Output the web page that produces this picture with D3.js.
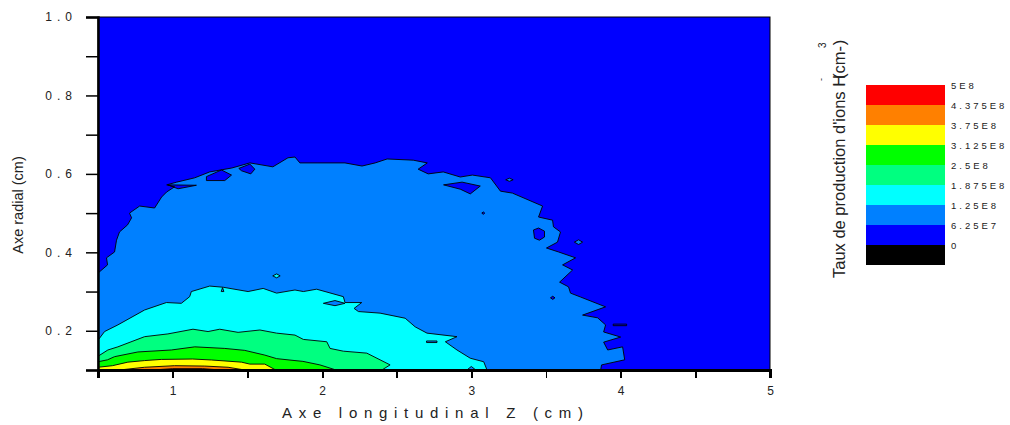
<!DOCTYPE html>
<html><head><meta charset="utf-8">
<script src="https://cdn.jsdelivr.net/npm/d3@7"></script>
<style>
body{margin:0;background:#fff}
svg{display:block}
text{font-family:Arial,"Liberation Sans",sans-serif;fill:#222}
</style>
</head><body>
<svg id="chart" width="1010" height="425"></svg>
<script>
// ---------- data ----------
const levels = [-6.25e7, 0, 6.25e7, 1.25e8, 1.875e8, 2.5e8, 3.125e8, 3.75e8, 4.375e8, 5e8];
const levelLabels = ["0","6.25E7","1.25E8","1.875E8","2.5E8","3.125E8","3.75E8","4.375E8","5E8"];
const bandColors = ["#000000","#0000FF","#0080FF","#00FFFF","#00FF80","#00FF00","#FFFF00","#FF8000","#FF0000"];
const xTicks = [0.5,1,1.5,2,2.5,3,3.5,4,4.5,5];
const xLabels = [1,2,3,4,5];
const yTicks = [0.1,0.2,0.3,0.4,0.5,0.6,0.7,0.8,0.9,1.0];
const yLabels = [0.2,0.4,0.6,0.8,1.0];

// contour lines [z (cm), r (cm)] for each level
const c625e7 = [[0.5,0.347],[0.564,0.368],[0.557,0.386],[0.611,0.401],[0.624,0.431],[0.644,0.452],[0.698,0.470],[0.725,0.488],[0.711,0.500],[0.779,0.518],[0.879,0.513],[0.926,0.541],[0.960,0.554],[1.013,0.567],[0.960,0.572],[1.027,0.579],[1.148,0.590],[1.248,0.605],[1.396,0.615],[1.517,0.628],[1.671,0.618],[1.772,0.641],[1.819,0.643],[1.852,0.628],[1.973,0.628],[2.154,0.628],[2.268,0.620],[2.356,0.628],[2.436,0.638],[2.611,0.635],[2.705,0.628],[2.644,0.612],[2.711,0.600],[2.812,0.605],[2.926,0.592],[3.007,0.597],[3.128,0.590],[3.195,0.556],[3.275,0.551],[3.477,0.518],[3.450,0.490],[3.544,0.482],[3.550,0.465],[3.597,0.452],[3.577,0.426],[3.503,0.411],[3.584,0.401],[3.698,0.386],[3.611,0.368],[3.678,0.355],[3.591,0.324],[3.651,0.312],[3.664,0.296],[3.732,0.286],[3.899,0.261],[3.745,0.240],[3.846,0.233],[3.899,0.215],[3.886,0.197],[4.000,0.184],[3.886,0.171],[3.913,0.151],[4.013,0.159],[4.027,0.126],[3.872,0.113],[3.866,0.100]];
const c125e8 = [[0.5,0.176],[0.544,0.198],[0.633,0.215],[0.812,0.253],[0.958,0.272],[1.058,0.270],[1.114,0.287],[1.125,0.300],[1.248,0.314],[1.338,0.311],[1.505,0.300],[1.606,0.308],[1.696,0.296],[1.819,0.304],[1.875,0.300],[1.964,0.306],[2.143,0.287],[2.154,0.272],[2.266,0.272],[2.215,0.257],[2.244,0.249],[2.389,0.245],[2.557,0.232],[2.624,0.210],[2.703,0.194],[2.904,0.185],[2.826,0.172],[2.904,0.151],[2.993,0.130],[3.083,0.121],[3.105,0.100]];
const c1875e8 = [[0.5,0.135],[0.566,0.151],[0.633,0.159],[0.812,0.185],[0.968,0.192],[1.136,0.204],[1.237,0.198],[1.315,0.204],[1.438,0.196],[1.584,0.202],[1.696,0.194],[1.819,0.189],[1.875,0.178],[2.032,0.172],[2.054,0.155],[2.143,0.148],[2.300,0.143],[2.456,0.113],[2.401,0.100]];
const c25e8 = [[0.5,0.121],[0.564,0.126],[0.611,0.134],[0.767,0.146],[0.991,0.151],[1.148,0.159],[1.349,0.155],[1.483,0.150],[1.617,0.138],[1.696,0.129],[1.819,0.124],[1.872,0.122],[1.986,0.113],[2.094,0.100]];
const c3125e8 = [[0.5,0.107],[0.597,0.111],[0.700,0.120],[0.812,0.124],[0.924,0.127],[1.134,0.128],[1.260,0.1255],[1.461,0.120],[1.517,0.115],[1.617,0.115],[1.690,0.100]];
const c375e8 = [[0.644,0.100],[0.812,0.107],[1.013,0.111],[1.215,0.110],[1.371,0.107],[1.483,0.100]];
const c4375e8 = [[0.87,0.100],[1.0,0.1035],[1.2,0.1035],[1.32,0.100]];
const contourLines = [c625e7, c125e8, c1875e8, c25e8, c3125e8, c375e8, c4375e8];
const contourBands = [2, 3, 4, 5, 6, 7, 8];

// closed islands (holes) and the band they belong to
const islands = [
  [[0.968,0.572],[1.159,0.571],[1.036,0.562]],
  [[1.226,0.593],[1.327,0.610],[1.394,0.597],[1.349,0.583],[1.226,0.583]],
  [[1.443,0.614],[1.517,0.625],[1.550,0.612],[1.523,0.600],[1.461,0.608]],
  [[2.814,0.572],[2.938,0.579],[3.060,0.569],[2.993,0.549],[2.926,0.561]],
  [[3.416,0.457],[3.450,0.462],[3.490,0.454],[3.490,0.439],[3.456,0.431],[3.423,0.436]],
  [[3.95,0.217],[4.04,0.217],[4.04,0.213],[3.95,0.213]],
  [[3.07,0.500],[3.08,0.503],[3.09,0.500],[3.08,0.497]],
  [[3.53,0.284],[3.545,0.288],[3.56,0.284],[3.545,0.280]],
  [[3.69,0.426],[3.718,0.432],[3.745,0.426],[3.718,0.420]],
  [[3.23,0.585],[3.255,0.589],[3.28,0.585],[3.255,0.581]],
  [[1.67,0.340],[1.696,0.345],[1.72,0.340],[1.696,0.335]],
  [[2.009,0.270],[2.087,0.277],[2.154,0.270],[2.087,0.264]],
  [[2.70,0.174],[2.77,0.174],[2.77,0.170],[2.70,0.170]],
  [[2.97,0.100],[3.0,0.109],[3.03,0.100]],
  [[1.325,0.300],[1.334,0.310],[1.343,0.300]]
];
const islandBands = [1,1,1,1,1,1,1,1,2,2,3,2,2,2,2];

// ---------- layout ----------
const svg = d3.select("#chart");
const L = 98, R = 770, T = 17, B = 370;
const x = d3.scaleLinear().domain([0.5, 5]).range([L, R]);
const y = d3.scaleLinear().domain([0.1, 1.0]).range([B, T]);

svg.append("defs").append("clipPath").attr("id","plotclip")
  .append("rect").attr("x",L).attr("y",T).attr("width",R-L).attr("height",B-T);

const plot = svg.append("g").attr("clip-path","url(#plotclip)");
plot.append("rect").attr("x",L).attr("y",T).attr("width",R-L).attr("height",B-T)
  .attr("fill", bandColors[1]);

const line = d3.line().x(d => x(d[0])).y(d => y(d[1]));
const closedArea = pts => line(pts.concat([[pts[pts.length-1][0],0.1],[0.5,0.1],[0.5,pts[0][1]]])) + "Z";

contourLines.forEach((pts, i) => {
  plot.append("path").attr("d", closedArea(pts)).attr("fill", bandColors[contourBands[i]]);
});
islands.forEach((pts, i) => {
  plot.append("path").attr("d", line(pts) + "Z")
    .attr("fill", bandColors[islandBands[i]])
    .attr("stroke","#000").attr("stroke-width",0.9).attr("stroke-linejoin","round");
});
contourLines.forEach(pts => {
  plot.append("path").attr("d", line(pts)).attr("fill","none")
    .attr("stroke","#000").attr("stroke-width",0.9).attr("stroke-linejoin","round");
});

// frame
svg.append("rect").attr("x",L).attr("y",T).attr("width",R-L).attr("height",B-T)
  .attr("fill","none").attr("stroke","#000").attr("stroke-width",1);

// y axis
const yAxis = d3.axisLeft(y).tickValues(yTicks).tickSize(12).tickPadding(9)
  .tickFormat(d => yLabels.some(v => Math.abs(v-d)<1e-9) ? d3.format(".1f")(d) : "");
const gy = svg.append("g").attr("transform",`translate(${L},0)`).call(yAxis);
gy.select(".domain").attr("stroke","#000").attr("stroke-width",2.5);
gy.selectAll(".tick line").attr("stroke","#000").attr("stroke-width",1.5);
gy.selectAll(".tick text").attr("font-size",12).style("letter-spacing","5px")
  .attr("fill","#222").attr("font-family","Arial, 'Liberation Sans', sans-serif");

// x axis
const xAxis = d3.axisBottom(x).tickValues(xTicks).tickSize(8).tickPadding(8)
  .tickFormat(d => xLabels.includes(d) ? String(d) : "");
const gx = svg.append("g").attr("transform",`translate(0,${B})`).call(xAxis);
gx.select(".domain").attr("stroke","#000").attr("stroke-width",2.5);
gx.selectAll(".tick line").attr("stroke","#000").attr("stroke-width", d => Number.isInteger(d) ? 2 : 1.5);
gx.selectAll(".tick text").attr("font-size",12).attr("fill","#222")
  .attr("font-family","Arial, 'Liberation Sans', sans-serif");
gx.selectAll(".domain, .tick line").attr("shape-rendering","crispEdges");

// axis titles
svg.append("text").attr("x",432.5).attr("y",418).attr("text-anchor","middle")
  .attr("font-size",15).attr("textLength",301).attr("lengthAdjust","spacing")
  .text("Axe longitudinal Z (cm)");
svg.append("text").attr("transform","translate(23,205) rotate(-90)").attr("text-anchor","middle")
  .attr("font-size",14.5).text("Axe radial (cm)");

// legend
const ly = d3.scaleLinear().domain([levels[0], levels[levels.length-1]]).range([265, 85]);
const lg = svg.append("g");
bandColors.forEach((c, i) => {
  lg.append("rect").attr("x",866).attr("width",79)
    .attr("y", ly(levels[i+1])).attr("height", ly(levels[i]) - ly(levels[i+1]))
    .attr("fill", c);
});
levelLabels.forEach((t, i) => {
  lg.append("text").attr("x",951).attr("y", ly(levels[i+1]) + 3.5)
    .attr("font-size",9.5).style("letter-spacing","3px").text(t);
});
const lt = svg.append("text").attr("transform","translate(845,278) rotate(-90)")
  .attr("font-size",16.5);
lt.append("tspan").text("Taux de production d'ions H");
lt.append("tspan").attr("dy",-21).attr("dx",-6).attr("font-size",9).text("-");
lt.append("tspan").attr("dy",21).attr("dx",-1).text("(cm-");
lt.append("tspan").attr("dy",-19).attr("dx",-2).attr("font-size",10).text("3");
lt.append("tspan").attr("dy",19).attr("dx",-3).text(")");
</script>
</body></html>
